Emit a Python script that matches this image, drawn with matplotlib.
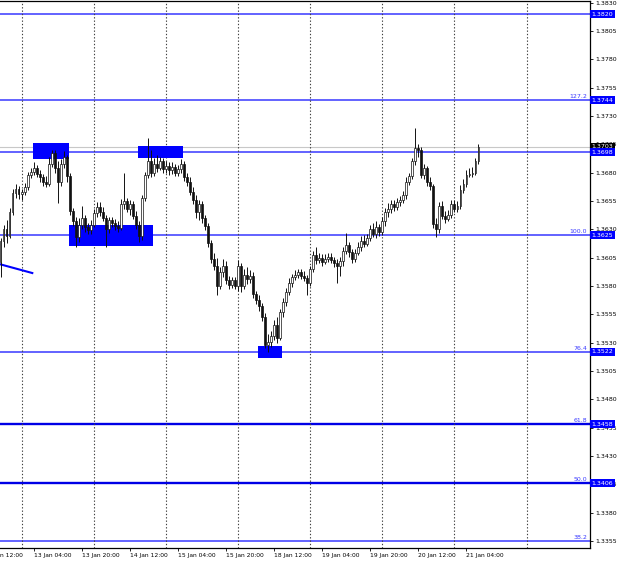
import matplotlib
matplotlib.use('Agg')
import matplotlib.pyplot as plt
import matplotlib.transforms as mtrans
from matplotlib.patches import Rectangle

# ---------------- data (H1 bars; bar 0 = 12 Jan 12:00; prices in 1/10000 above 1.0000) -------------
first_bar = 5
first_open = 3601
closes = [3620, 3630, 3624, 3645, 3662, 3666, 3661, 3663, 3667, 3678,
          3681, 3684, 3679, 3676, 3672, 3670, 3688, 3697, 3684, 3672,
          3688, 3694, 3677, 3646, 3637, 3623, 3634, 3640, 3632, 3629,
          3634, 3644, 3650, 3645, 3640, 3630, 3638, 3636, 3633, 3631,
          3652, 3655, 3648, 3652, 3642, 3634, 3624, 3658, 3678, 3690,
          3680, 3688, 3684, 3690, 3683, 3686, 3682, 3685, 3680, 3683,
          3688, 3676, 3672, 3663, 3656, 3645, 3652, 3640, 3633, 3618,
          3604, 3598, 3580, 3592, 3598, 3585, 3581, 3585, 3580, 3598,
          3580, 3590, 3586, 3589, 3573, 3568, 3562, 3553, 3528, 3531,
          3536, 3546, 3534, 3557, 3566, 3575, 3583, 3588, 3590, 3592,
          3589, 3587, 3583, 3595, 3607, 3603, 3605, 3601, 3604, 3606,
          3603, 3600, 3598, 3602, 3611, 3616, 3610, 3604, 3609, 3614,
          3620, 3617, 3622, 3630, 3626, 3632, 3628, 3637, 3645, 3648,
          3652, 3650, 3654, 3656, 3660, 3672, 3677, 3690, 3702, 3700,
          3678, 3684, 3672, 3668, 3635, 3630, 3651, 3642, 3639, 3643,
          3652, 3648, 3651, 3665, 3670, 3678, 3679, 3680, 3690, 3703]
highs = [3622, 3634, 3638, 3649, 3666, 3670, 3668, 3666, 3671, 3681,
         3684, 3689, 3687, 3682, 3679, 3677, 3694, 3700, 3700, 3690,
         3692, 3699, 3696, 3680, 3649, 3641, 3640, 3651, 3643, 3636,
         3638, 3648, 3654, 3654, 3650, 3643, 3641, 3641, 3639, 3637,
         3657, 3680, 3658, 3656, 3655, 3646, 3637, 3660, 3681, 3711,
         3700, 3693, 3696, 3694, 3693, 3690, 3689, 3689, 3688, 3687,
         3692, 3690, 3680, 3676, 3667, 3660, 3656, 3655, 3643, 3636,
         3621, 3609, 3605, 3597, 3604, 3602, 3589, 3588, 3588, 3603,
         3600, 3595, 3597, 3594, 3592, 3576, 3572, 3565, 3556, 3538,
         3540, 3550, 3553, 3560, 3569, 3578, 3587, 3591, 3594, 3595,
         3595, 3593, 3590, 3598, 3611, 3614, 3609, 3608, 3608, 3609,
         3609, 3606, 3604, 3606, 3614, 3627, 3619, 3613, 3613, 3619,
         3624, 3625, 3626, 3634, 3636, 3637, 3635, 3641, 3649, 3653,
         3656, 3656, 3658, 3659, 3664, 3676, 3680, 3693, 3719, 3705,
         3703, 3688, 3686, 3676, 3670, 3640, 3654, 3655, 3646, 3647,
         3656, 3656, 3655, 3669, 3674, 3682, 3684, 3685, 3693, 3705]
lows = [3588, 3614, 3618, 3622, 3643, 3658, 3657, 3656, 3660, 3665,
        3675, 3678, 3676, 3672, 3668, 3667, 3668, 3685, 3680, 3653,
        3668, 3684, 3672, 3643, 3633, 3614, 3619, 3630, 3628, 3626,
        3626, 3632, 3641, 3642, 3637, 3614, 3627, 3632, 3629, 3628,
        3629, 3648, 3645, 3643, 3639, 3630, 3619, 3621, 3655, 3675,
        3676, 3677, 3681, 3682, 3680, 3680, 3678, 3679, 3677, 3677,
        3680, 3673, 3668, 3660, 3652, 3640, 3638, 3636, 3629, 3614,
        3600, 3594, 3572, 3577, 3588, 3582, 3577, 3578, 3577, 3576,
        3575, 3577, 3582, 3583, 3569, 3564, 3558, 3549, 3525, 3522,
        3526, 3532, 3530, 3532, 3553, 3562, 3572, 3579, 3585, 3587,
        3586, 3584, 3572, 3580, 3592, 3599, 3600, 3598, 3599, 3601,
        3600, 3597, 3583, 3589, 3598, 3608, 3606, 3600, 3601, 3607,
        3611, 3614, 3615, 3620, 3623, 3622, 3624, 3625, 3633, 3641,
        3644, 3646, 3647, 3651, 3653, 3657, 3669, 3674, 3687, 3694,
        3675, 3674, 3668, 3665, 3631, 3623, 3627, 3639, 3636, 3637,
        3640, 3645, 3645, 3648, 3662, 3667, 3676, 3676, 3678, 3688]

x_tick_bars = [16, 32, 48, 64, 80, 96, 112, 128, 144, 160]
x_tick_labels = ['13 Jan 04:00', '13 Jan 20:00', '14 Jan 12:00', '15 Jan 04:00', '15 Jan 20:00',
                 '18 Jan 12:00', '19 Jan 04:00', '19 Jan 20:00', '20 Jan 12:00', '21 Jan 04:00']
cut_label_bar = 0
cut_label = '12 Jan 12:00'
day_sep_bars = [12, 36, 60, 84, 108, 132, 156, 180]

y_ticks = [1.3355, 1.3380, 1.3405, 1.3430, 1.3455, 1.3480, 1.3505, 1.3530, 1.3555, 1.3580,
           1.3605, 1.3630, 1.3655, 1.3680, 1.3705, 1.3730, 1.3755, 1.3780, 1.3805, 1.3830]

levels = [1.3820, 1.3744, 1.3698, 1.3625, 1.3522, 1.3458, 1.3406, 1.3355]
level_fib = ['', '127.2', '', '100.0', '76.4', '61.8', '50.0', '38.2']
level_boxed = [True, True, True, True, True, True, True, False]
level_bold = [False, False, False, False, False, True, True, False]

current_price = 1.3703

zone_x0 = [15.8, 27.8, 50.7, 90.8]
zone_x1 = [27.8, 55.6, 65.7, 98.7]
zone_y0 = [1.36921, 1.36155, 1.36928, 1.35166]
zone_y1 = [1.37062, 1.36334, 1.37034, 1.35270]

trend_x = [4.0, 15.9]
trend_y = [1.35998, 1.35912]

# ---------------- figure ----------------
W, H = 620, 563
fig = plt.figure(figsize=(W / 100, H / 100), dpi=100)
fig.patch.set_facecolor('white')
ax = fig.add_axes([0, 15 / H, 590 / W, 547 / H])
ax.set_facecolor('white')
ax.set_xlim(4.824, 201.1)
ax.set_ylim(1.33488, 1.38315)

# grid (day separators)
ax.set_xticks(day_sep_bars, minor=True)
ax.grid(True, which='minor', axis='x', color='#404040', linestyle=(0, (1.2, 1.8)), linewidth=0.8)
ax.tick_params(axis='x', which='minor', length=0)

# levels
for lv, fib, bold in zip(levels, level_fib, level_bold):
    ax.axhline(lv, color='#0000e6' if bold else '#3838ff', linewidth=1.7 if bold else 1.1, zorder=1)
ax.axhline(current_price, color='#c8c8c8', linewidth=0.8, zorder=1)

# zones
for a, b, c, d in zip(zone_x0, zone_x1, zone_y0, zone_y1):
    ax.add_patch(Rectangle((a, c), b - a, d - c, facecolor='#0000ff', edgecolor='none', zorder=2))

# trend line
ax.plot(trend_x, trend_y, color='#0000ff', linewidth=1.5, zorder=2, solid_capstyle='butt')

# candles
n = len(closes)
xs = list(range(first_bar, first_bar + n))
opens = [first_open] + closes[:-1]
o = [1 + v / 10000 for v in opens]
c = [1 + v / 10000 for v in closes]
h = [1 + v / 10000 for v in highs]
l = [1 + v / 10000 for v in lows]
ax.vlines(xs, l, h, color='#111111', linewidth=0.7, zorder=3)
for xi, oi, ci in zip(xs, o, c):
    bull = ci >= oi
    ax.bar(xi, ci - oi if abs(ci - oi) > 1e-9 else 0.00003, bottom=oi, width=0.62,
           facecolor='white' if bull else '#111111', edgecolor='#111111', linewidth=0.5, zorder=4)

# axes styling
ax.spines['left'].set_visible(False)
for s in ['top', 'right', 'bottom']:
    ax.spines[s].set_color('black')
    ax.spines[s].set_linewidth(0.9)

ax.yaxis.tick_right()
ax.set_yticks(y_ticks)
ax.set_yticklabels([f'{v:.4f}' for v in y_ticks])
ax.tick_params(axis='y', which='major', direction='out', length=2.5, width=0.6, pad=1.2,
               labelsize=4.5, labelcolor='black')
ax.set_xticks(x_tick_bars)
ax.set_xticklabels(x_tick_labels, ha='left')
ax.tick_params(axis='x', which='major', direction='out', length=2.5, width=0.6, pad=1.0,
               labelsize=4.3, labelcolor='black')
ax.annotate(cut_label, xy=(cut_label_bar, 0), xycoords=('data', 'axes fraction'),
            xytext=(0, -3.5), textcoords='offset points', ha='left', va='top',
            fontsize=4.3, annotation_clip=False)

trans = mtrans.blended_transform_factory(ax.transAxes, ax.transData)
# current price label (black)
ax.text(1.0 + 1.5 / 590, current_price, f'{current_price:.4f}', transform=trans, ha='left', va='center',
        color='white', fontsize=4.5, clip_on=False, zorder=10,
        bbox=dict(boxstyle='square,pad=0.25', facecolor='black', edgecolor='none'))
for lv, fib, boxed in zip(levels, level_fib, level_boxed):
    if boxed:
        ax.text(1.0 + 1.5 / 590, lv, f'{lv:.4f}', transform=trans, ha='left', va='center',
                color='white', fontsize=4.5, clip_on=False, zorder=11,
                bbox=dict(boxstyle='square,pad=0.25', facecolor='#0000ff', edgecolor='none'))
    if fib:
        ax.annotate(fib, xy=(1.0, lv), xycoords=trans, xytext=(-2, 0.6), textcoords='offset points',
                    ha='right', va='bottom', color='#3a3aff', fontsize=4.5, zorder=11)

fig.savefig('out.png', dpi=100, facecolor='white')
